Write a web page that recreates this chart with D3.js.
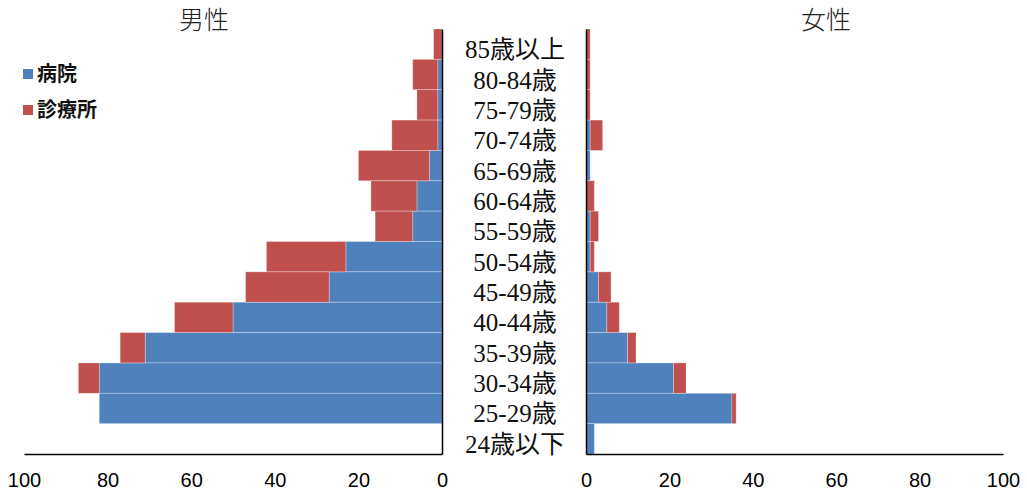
<!DOCTYPE html>
<html>
<head>
<meta charset="utf-8">
<script src="https://cdn.jsdelivr.net/npm/d3@7"></script>
<style>
html,body{margin:0;padding:0;background:#fff;}
svg{display:block;}
.cat{font-family:"Liberation Serif","Noto Sans CJK JP",serif;}
</style>
</head>
<body>
<svg id="chart" width="1027" height="494"></svg>
<script>
const categories = ["85歳以上","80-84歳","75-79歳","70-74歳","65-69歳","60-64歳","55-59歳","50-54歳","45-49歳","40-44歳","35-39歳","30-34歳","25-29歳","24歳以下"];
const seriesNames = ["病院","診療所"];
const maleHospital = [0,1,1,1,3,6,7,23,27,50,71,82,82,0];
const maleClinic   = [2,6,5,11,17,11,9,19,20,14,6,5,0,0];
const femaleHospital = [0,0,0,1,1,0,1,1,3,5,10,21,35,2];
const femaleClinic   = [1,1,1,3,0,2,2,1,3,3,2,3,1,0];
const tickValues = [0,20,40,60,80,100];
const colors = ["#4F81BD","#C0504D"];

const svg = d3.select("#chart");
const plotTop = 29, plotBottom = 454;
const y = d3.scaleBand().domain(categories).range([plotTop, plotBottom]).padding(0);
const xL = d3.scaleLinear().domain([0,100]).range([442, 24]);
const xR = d3.scaleLinear().domain([0,100]).range([586, 1003]);

function build(h, c){
  return categories.map((cat,i)=>({cat, "病院":h[i], "診療所":c[i]}));
}
const stack = d3.stack().keys(seriesNames);

function drawPanel(data, x, left){
  const layers = stack(data);
  const g = svg.append("g");
  layers.forEach((layer, li)=>{
    g.selectAll(null).data(layer).enter().append("rect")
      .attr("x", d => left ? x(d[1]) : x(d[0]))
      .attr("width", d => Math.abs(x(d[1]) - x(d[0])))
      .attr("y", d => y(d.data.cat))
      .attr("height", y.bandwidth())
      .attr("fill", colors[li])
      .attr("stroke", "#ffffff")
      .attr("stroke-opacity", d => (d[1]-d[0])>0 ? 0.35 : 0)
      .attr("stroke-width", 0.8);
  });
  const ax = svg.append("g").attr("transform", `translate(0,${plotBottom})`)
    .call(d3.axisBottom(x).tickValues(tickValues).tickSize(0).tickSizeOuter(0).tickPadding(19));
  ax.select(".domain").attr("stroke","#000").attr("stroke-width",1.5);
  ax.selectAll("text").attr("font-family","'Liberation Sans', Arial, sans-serif").attr("font-size",20).attr("fill","#000");
  const vx = x(0);
  const vax = svg.append("g").attr("transform", `translate(${vx},0)`)
    .call((left ? d3.axisRight(y) : d3.axisLeft(y)).tickValues([]).tickSize(0).tickSizeOuter(0));
  vax.select(".domain").attr("stroke","#000").attr("stroke-width",1.5);
}

drawPanel(build(maleHospital, maleClinic), xL, true);
drawPanel(build(femaleHospital, femaleClinic), xR, false);

// category labels
svg.append("g").selectAll("text").data(categories).enter().append("text")
  .attr("class","cat")
  .attr("x", 515)
  .attr("y", d => y(d) + y.bandwidth()/2 + 5)
  .attr("dy", "0.36em")
  .attr("text-anchor","middle")
  .attr("font-size", 25)
  .attr("fill","#111")
  .text(d=>d);

// titles
svg.append("text").attr("x",204).attr("y",29).attr("text-anchor","middle")
  .attr("font-family","'Noto Sans CJK JP', sans-serif").attr("font-size",25).attr("font-weight",300).attr("fill","#222").text("男性");
svg.append("text").attr("x",826).attr("y",29).attr("text-anchor","middle")
  .attr("font-family","'Noto Sans CJK JP', sans-serif").attr("font-size",25).attr("font-weight",300).attr("fill","#222").text("女性");

// legend
const leg = svg.append("g");
seriesNames.forEach((s,i)=>{
  const cy = 74 + i*36;
  leg.append("rect").attr("x",23).attr("y",cy-5).attr("width",10).attr("height",10).attr("fill",colors[i]);
  leg.append("text").attr("x",37).attr("y",cy).attr("dy","0.36em")
    .attr("font-family","'Noto Sans CJK JP', sans-serif").attr("font-size",20).attr("font-weight",700).attr("fill","#111").text(s);
});
</script>
</body>
</html>
